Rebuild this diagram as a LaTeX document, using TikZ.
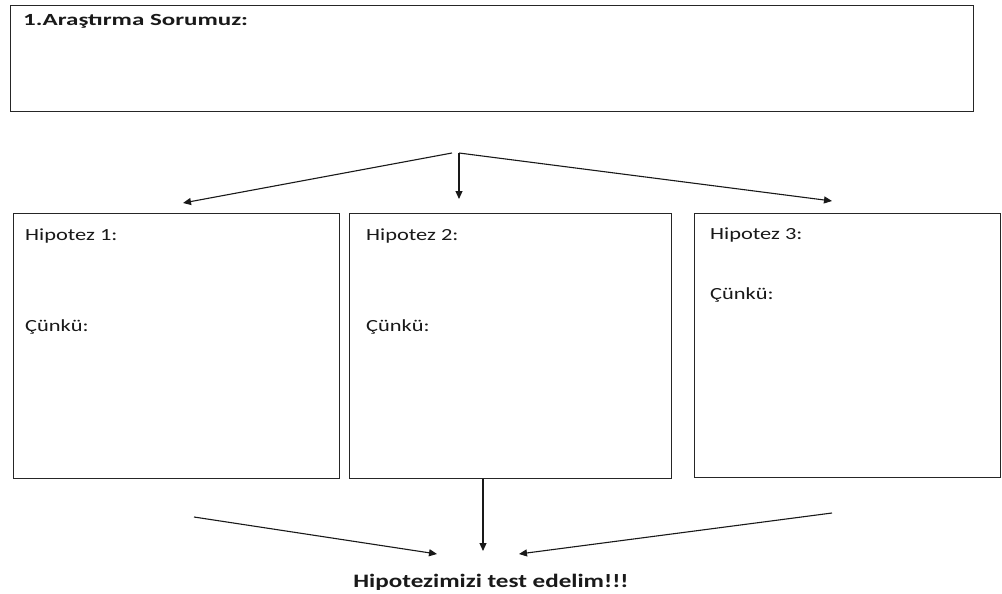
\documentclass[tikz,border=0pt]{standalone}
\usepackage{fontspec}
\setmainfont{Carlito}
\newfontfamily\wfont[FakeStretch=1.32]{Carlito}
\newfontfamily\tfont[FakeStretch=1.47]{Carlito}
\usetikzlibrary{arrows.meta}
\begin{document}
\begin{tikzpicture}[x=1pt,y=-1pt,
  panel/.style={draw=black!85,line width=1.4pt,inner sep=0pt,anchor=north west},
  lbl/.style={anchor=base west,inner sep=0pt,font=\wfont\fontsize{17}{20}\selectfont,text=black!90},
  conn/.style={draw=black!90,line width=1.1pt,-{Triangle[length=8pt,width=7pt]}}]
\useasboundingbox[fill=white] (0,0) rectangle (1002,594);
% top box
\node[panel,minimum width=963pt,minimum height=106pt] (q) at (10,5) {};
\node[lbl,font=\tfont\fontsize{17}{20}\selectfont\bfseries] (qt) at (23,26) {1.Araştırma Sorumuz:};
% hypothesis boxes
\node[panel,minimum width=326pt,minimum height=265pt] (h1) at (13,213) {};
\node[panel,minimum width=322pt,minimum height=265pt] (h2) at (349,213) {};
\node[panel,minimum width=306pt,minimum height=264pt] (h3) at (694,213) {};
\node[lbl] (h1a) at (25,240) {Hipotez 1:};
\node[lbl] (h1b) at (25,331) {Çünkü:};
\node[lbl] (h2a) at (366,240) {Hipotez 2:};
\node[lbl] (h2b) at (366,331) {Çünkü:};
\node[lbl] (h3a) at (710,239) {Hipotez 3:};
\node[lbl] (h3b) at (710,299) {Çünkü:};
% top connectors
\coordinate (sL) at (452,153);
\coordinate (sC) at (459,153);
\coordinate (tL) at (183,203);
\coordinate (tC) at (459,199);
\coordinate (tR) at (832,201);
\draw[conn] (sL) -- (tL);
\draw[conn] (sC) -- (tC);
\draw[conn] (sC) -- (tR);
% bottom
\node[anchor=base,inner sep=0pt,font=\wfont\fontsize{19}{22}\selectfont\bfseries,text=black!90] (res) at (491,587) {Hipotezimizi test edelim!!!};
\coordinate (bL) at (194,517);
\coordinate (bR) at (832,513);
\coordinate (eL) at (437,554);
\coordinate (eC) at (483,551);
\coordinate (eR) at (519,554);
\draw[conn] (bL) -- (eL);
\draw[conn] (h2.south -| eC) -- (eC);
\draw[conn] (bR) -- (eR);
\end{tikzpicture}
\end{document}
